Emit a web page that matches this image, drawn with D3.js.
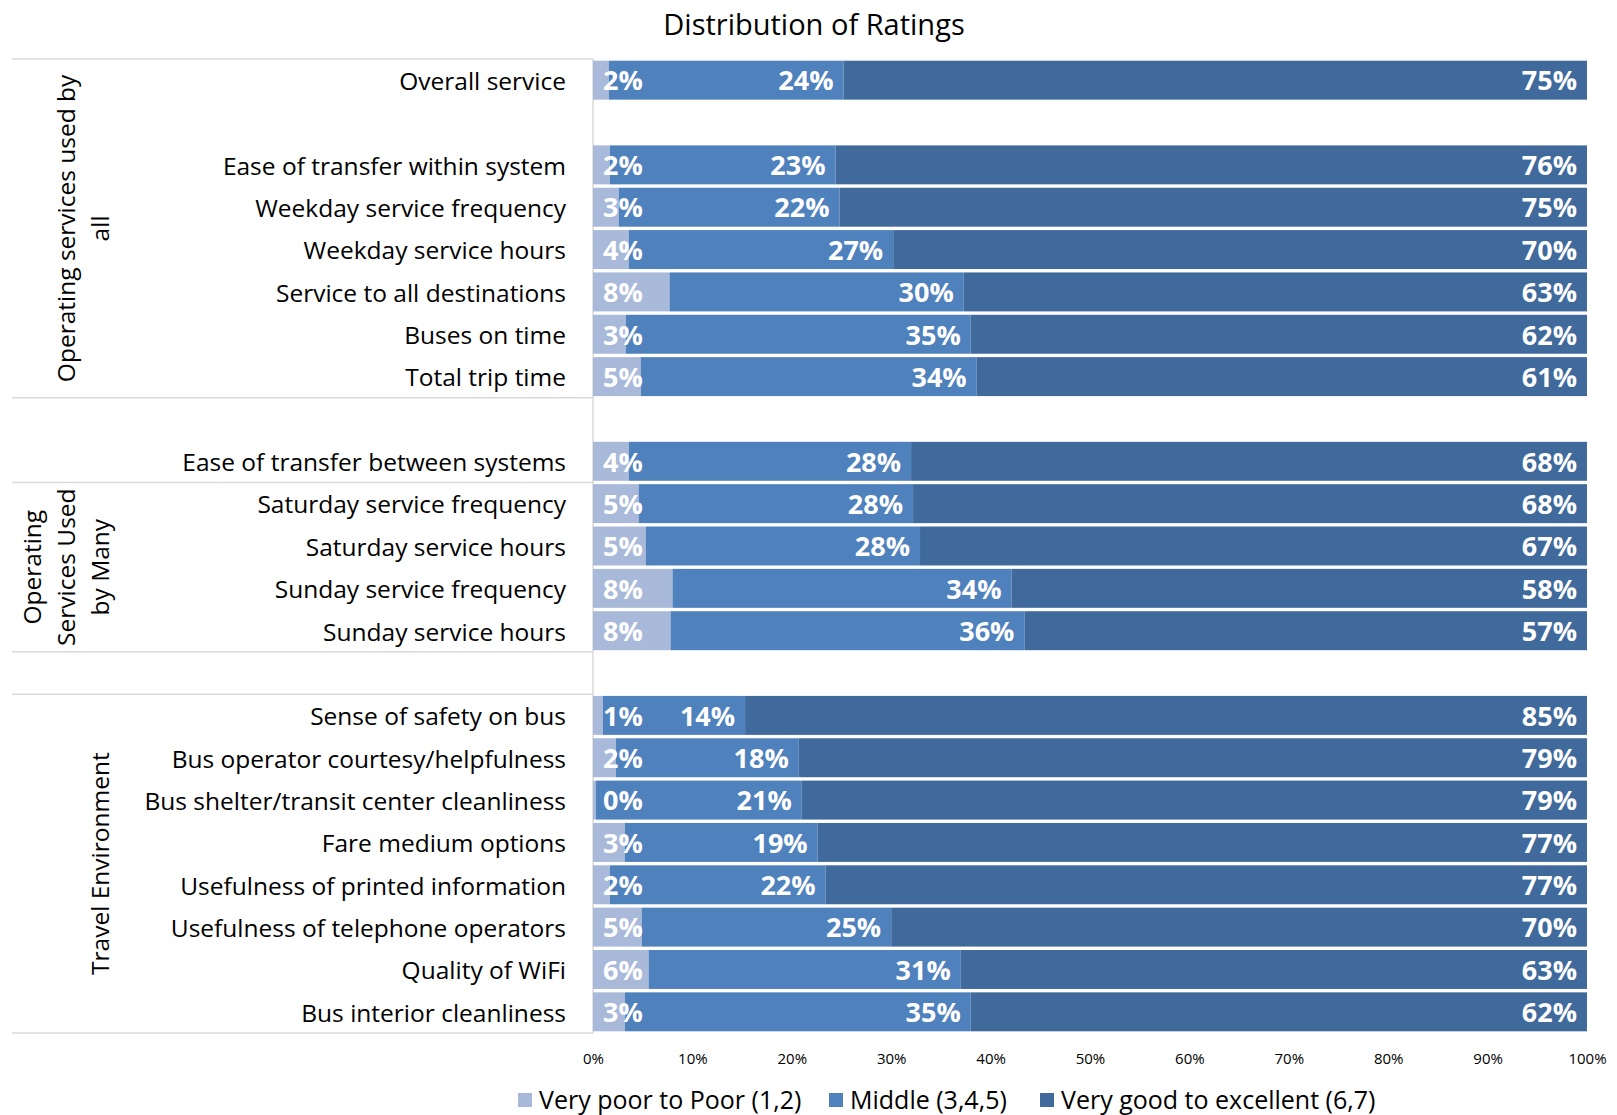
<!DOCTYPE html>
<html>
<head>
<meta charset="utf-8">
<script src="https://cdn.jsdelivr.net/npm/d3@7"></script>
<style>
  body { margin: 0; background: #fff; }
  text { font-family: 'Open Sans', sans-serif; fill: #000; }
</style>
</head>
<body>
<svg id="chart" width="1617" height="1115"></svg>
<script>

// rows top to bottom, '' = empty spacer row
var categories = [
  'Overall service', '',
  'Ease of transfer within system', 'Weekday service frequency', 'Weekday service hours',
  'Service to all destinations', 'Buses on time', 'Total trip time', '',
  'Ease of transfer between systems', 'Saturday service frequency', 'Saturday service hours',
  'Sunday service frequency', 'Sunday service hours', '',
  'Sense of safety on bus', 'Bus operator courtesy/helpfulness', 'Bus shelter/transit center cleanliness',
  'Fare medium options', 'Usefulness of printed information', 'Usefulness of telephone operators',
  'Quality of WiFi', 'Bus interior cleanliness'
];

var poor   = [ 1.6, null, 1.7, 2.6, 3.6, 7.7, 3.3, 4.8, null, 3.6, 4.6, 5.3, 8.0, 7.8, null, 1.0, 2.3, 0.3, 3.2, 1.7, 4.9, 5.6, 3.2 ];
var middle = [ 23.6, null, 22.7, 22.2, 26.6, 29.6, 34.7, 33.8, null, 28.4, 27.6, 27.6, 34.1, 35.6, null, 14.3, 18.4, 20.7, 19.4, 21.7, 25.1, 31.4, 34.8 ];
var good   = [ 74.8, null, 75.6, 75.2, 69.8, 62.7, 62.0, 61.4, null, 68.0, 67.8, 67.1, 57.9, 56.6, null, 84.7, 79.3, 79.0, 77.4, 76.6, 70.0, 63.0, 62.0 ];

var seriesNames = [ 'Very poor to Poor (1,2)', 'Middle (3,4,5)', 'Very good to excellent (6,7)' ];

// category groups (row index ranges, end exclusive) and their wrapped labels
var groupLines = [ [ 'Operating services used by', 'all' ], [], [ 'Operating', 'Services Used', 'by Many' ], [], [ 'Travel Environment' ] ];
var groupStart = [ 0, 8, 10, 14, 15 ];
var groupEnd   = [ 8, 10, 14, 15, 23 ];

var xTicks = [ 0, 0.1, 0.2, 0.3, 0.4, 0.5, 0.6, 0.7, 0.8, 0.9, 1 ];

var svg = d3.select( '#chart' );

var colors = d3.scaleOrdinal()
  .domain( [ 'poor', 'middle', 'good' ] )
  .range( [ '#A9B9D9', '#4F81BD', '#406A9C' ] );

var x = d3.scaleLinear()
  .domain( [ 0, 1 ] )
  .range( [ 593, 1587 ] );

var y = d3.scaleBand()
  .domain( d3.range( categories.length ) )
  .range( [ 59, 1033 ] )
  .paddingInner( 0.08 )
  .paddingOuter( 0.04 );

var half = ( y.step() - y.bandwidth() ) / 2;
var edge = i => i < categories.length ? y( i ) - half : y( i - 1 ) + y.bandwidth() + half;

var rows = categories.map( ( c, i ) => ( { i: i, name: c, poor: poor[ i ] / 100, middle: middle[ i ] / 100, good: good[ i ] / 100 } ) )
  .filter( d => d.name !== '' );

var stacked = d3.stack().keys( [ 'poor', 'middle', 'good' ] )( rows );

/* Title */

svg.append( 'text' )
  .attr( 'x', 814 )
  .attr( 'y', 25 )
  .attr( 'dy', '0.35em' )
  .attr( 'text-anchor', 'middle' )
  .style( 'font-size', '29px' )
  .text( 'Distribution of Ratings' );

/* Group separators on the left */

var bounds = [ 0 ].concat( groupEnd );

svg.selectAll( '.group-line' )
  .data( bounds )
  .enter().append( 'line' )
    .attr( 'class', 'group-line' )
    .attr( 'x1', 12 )
    .attr( 'x2', x( 0 ) )
    .attr( 'y1', d => edge( d ) )
    .attr( 'y2', d => edge( d ) )
    .style( 'stroke', '#D9D9D9' )
    .style( 'stroke-width', 1.5 );

var groups = svg.selectAll( '.group-label' )
  .data( groupLines.map( ( l, i ) => ( { lines: l, yc: ( edge( groupStart[ i ] ) + edge( groupEnd[ i ] ) ) / 2 } ) ) )
  .enter().append( 'g' )
    .attr( 'class', 'group-label' );

groups.selectAll( 'text' )
  .data( g => g.lines.map( ( t, k ) => ( { t: t, yc: g.yc, pos: g.lines.length - 1 - k } ) ) )
  .enter().append( 'text' )
    .attr( 'transform', d => 'translate(' + ( 100 - d.pos * 34 ) + ',' + d.yc + ') rotate(-90)' )
    .attr( 'text-anchor', 'middle' )
    .attr( 'dy', '0.35em' )
    .style( 'font-size', '24.5px' )
    .text( d => d.t );

/* Axes */

var yAxis = svg.append( 'g' )
  .attr( 'class', 'y-axis' )
  .attr( 'transform', 'translate(' + x( 0 ) + ',0)' )
  .call( d3.axisLeft( y ).tickSize( 0 ).tickSizeOuter( 0 ).tickPadding( 27 ).tickFormat( i => categories[ i ] ) );

yAxis.select( '.domain' )
  .attr( 'd', 'M0,' + edge( 0 ) + 'V' + edge( categories.length ) )
  .style( 'stroke', '#D9D9D9' )
  .style( 'stroke-width', 1.5 );

yAxis.selectAll( 'text' )
  .style( 'font-family', "'Open Sans', sans-serif" )
  .style( 'font-size', '24.5px' )
  .attr( 'dy', '0.4em' )
  .attr( 'fill', '#000' );

var xAxis = svg.append( 'g' )
  .attr( 'class', 'x-axis' )
  .attr( 'transform', 'translate(0,1050)' )
  .call( d3.axisBottom( x ).tickValues( xTicks ).tickSize( 0 ).tickFormat( d3.format( '.0%' ) ) );

xAxis.select( '.domain' ).remove();

xAxis.selectAll( 'text' )
  .style( 'font-family', "'Open Sans', sans-serif" )
  .style( 'font-size', '15px' )
  .attr( 'fill', '#000' );

/* Bars */

var layer = svg.selectAll( '.layer' )
  .data( stacked )
  .enter().append( 'g' )
    .attr( 'class', 'layer' )
    .style( 'fill', d => colors( d.key ) );

layer.selectAll( 'rect' )
  .data( d => d )
  .enter().append( 'rect' )
    .attr( 'x', d => x( d[ 0 ] ) )
    .attr( 'y', d => y( d.data.i ) )
    .attr( 'width', d => x( d[ 1 ] ) - x( d[ 0 ] ) )
    .attr( 'height', y.bandwidth() );

/* Data labels */

var labels = svg.selectAll( '.labels' )
  .data( stacked )
  .enter().append( 'g' )
    .attr( 'class', 'labels' );

labels.selectAll( 'text' )
  .data( s => s.map( d => ( { key: s.key, d: d } ) ) )
  .enter().append( 'text' )
    .attr( 'x', e => e.key === 'poor' ? x( 0 ) + 10 : x( e.d[ 1 ] ) - 10 )
    .attr( 'y', e => y( e.d.data.i ) + y.bandwidth() / 2 )
    .attr( 'dy', '0.38em' )
    .attr( 'text-anchor', e => e.key === 'poor' ? 'start' : 'end' )
    .style( 'font-size', '27px' )
    .style( 'font-weight', 'bold' )
    .style( 'fill', '#fff' )
    .text( e => Math.round( ( e.d[ 1 ] - e.d[ 0 ] ) * 100 ) + '%' );

/* Legend */

var legendX = [ 518, 829, 1040 ];

var legend = svg.selectAll( '.legend' )
  .data( [ 'poor', 'middle', 'good' ] )
  .enter().append( 'g' )
    .attr( 'class', 'legend' )
    .attr( 'transform', ( d, i ) => 'translate(' + legendX[ i ] + ',1100)' );

legend.append( 'rect' )
  .attr( 'x', 0 )
  .attr( 'y', -7 )
  .attr( 'width', 14 )
  .attr( 'height', 14 )
  .style( 'fill', d => colors( d ) );

legend.append( 'text' )
  .attr( 'x', 21 )
  .attr( 'dy', '0.35em' )
  .style( 'font-size', '25px' )
  .text( ( d, i ) => seriesNames[ i ] );

</script>
</body>
</html>
